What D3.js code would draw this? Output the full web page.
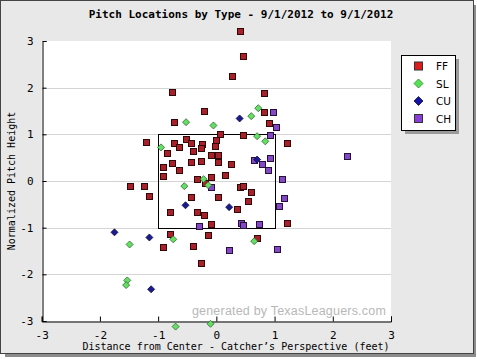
<!DOCTYPE html>
<html><head><meta charset="utf-8">
<script src="https://cdn.jsdelivr.net/npm/d3@7"></script>
<style>html,body{margin:0;padding:0;background:#fff;}svg{display:block;}</style>
</head><body>
<script>
const title = "Pitch Locations by Type - 9/1/2012 to 9/1/2012";
const xTitle = "Distance from Center - Catcher\u2019s Perspective (feet)";
const yTitle = "Normalized Pitch Height";
const xTicks = [-3,-2,-1,0,1,2,3];
const yTicks = [-3,-2,-1,0,1,2,3];
const gridY = [-2,-1,0,1,2];
const pitchTypes = ["FF","SL","CU","CH"];

const ffX = [0.40,0.45,0.27,-0.77,0.82,-0.21,-0.72,0.81,0.91,0.07,0.45,1.22,-1.20,-0.72,-0.65,-0.52,-0.43,-0.24,-0.27,0.00,-0.03,-0.40,-0.09,0.02,-0.84,-0.43,-0.27,0.02,0.26,-0.91,-0.77,-0.65,-0.91,-0.33,-0.09,0.15,-0.19,0.40,0.45,0.60,-0.43,0.02,0.55,0.36,-1.49,-1.25,-1.15,-0.79,-0.34,-0.21,-0.10,1.22,-0.79,-0.15,0.69,-0.91,-0.40,-0.27];
const ffY = [3.21,2.68,2.26,1.90,1.88,1.49,1.26,1.47,1.24,1.00,0.98,0.81,0.83,0.81,0.72,0.91,0.81,0.79,0.71,0.87,0.76,0.64,0.55,0.55,0.59,0.41,0.42,0.40,0.36,0.31,0.38,0.24,0.10,0.04,0.08,0.12,-0.05,-0.13,-0.11,-0.24,-0.35,-0.35,-0.43,-0.60,-0.11,-0.11,-0.33,-0.67,-0.67,-0.73,-0.93,-0.91,-1.14,-1.16,-1.23,-1.42,-1.40,-1.76];

const slX = [-0.52,-0.05,0.72,0.60,0.70,0.84,-0.95,-0.22,-0.55,-0.14,-0.74,0.65,-1.49,-1.53,-1.55,-0.70,-0.10];
const slY = [1.26,1.19,1.56,1.39,0.96,0.85,0.72,0.04,-0.11,-0.09,-1.25,-1.29,-1.36,-2.13,-2.23,-3.12,-3.06];

const cuX = [0.40,0.70,-0.53,0.22,-1.75,-1.15,-1.12];
const cuY = [1.34,0.46,-0.52,-0.56,-1.10,-1.21,-2.32];

const chX = [0.98,1.03,0.93,0.64,0.79,0.93,0.89,1.13,-0.09,1.17,1.07,-0.29,0.43,0.46,0.74,0.21,1.05,2.25];
const chY = [1.47,1.15,0.98,0.44,0.36,0.49,0.23,0.04,-0.13,-0.37,-0.54,-0.97,-0.91,-0.95,-0.93,-1.48,-1.46,0.53];

const szLeft = -1, szRight = 1, szTop = 1, szBottom = -1;

const W = 477, H = 359;
const svg = d3.select("body").append("svg").attr("width", W).attr("height", H);

// panel with shadow
svg.append("rect").attr("x",5).attr("y",5).attr("width",471).attr("height",352).attr("fill","#8c8c8c");
svg.append("rect").attr("x",0.5).attr("y",0.5).attr("width",473).attr("height",353)
  .attr("fill","#e8e8e8").attr("stroke","#444").attr("stroke-width",1);

const x = d3.scaleLinear().domain([-3,3]).range([41.7,391]);
const y = d3.scaleLinear().domain([-3,3]).range([321,41]);

// plot background
svg.append("rect").attr("x",x(-3)).attr("y",y(3)).attr("width",x(3)-x(-3)).attr("height",y(-3)-y(3)).attr("fill","#fff");

// gridlines
svg.append("g").selectAll("line").data(gridY).join("line")
  .attr("x1",x(-3)).attr("x2",x(3))
  .attr("y1",d=>Math.round(y(d))+0.5).attr("y2",d=>Math.round(y(d))+0.5)
  .attr("stroke","#d4d4d4").attr("stroke-width",1);

// watermark
svg.append("text").attr("x",386).attr("y",315).attr("text-anchor","end")
  .attr("font-family","'Liberation Sans', Arial, sans-serif").attr("font-size",12.5)
  .attr("letter-spacing",0.2)
  .attr("fill","#b8b8b8").text("generated by TexasLeaguers.com");

// axes
const mono = "'DejaVu Sans Mono', monospace";
const xAxis = d3.axisBottom(x).tickValues(xTicks).tickSize(-5).tickPadding(10).tickFormat(d3.format("d"));
const gx = svg.append("g").attr("transform",`translate(0,${Math.round(y(-3))+0.5})`).call(xAxis);
gx.select(".domain").attr("stroke","#000");
gx.selectAll(".tick line").attr("stroke","#000");
gx.selectAll("text").attr("font-family",mono).attr("font-size",11).attr("fill","#000")
  .text(d=>String(d));

const yAxis = d3.axisLeft(y).tickValues(yTicks).tickSize(-4).tickPadding(9).tickFormat(d3.format("d"));
const gy = svg.append("g").attr("transform",`translate(${Math.round(x(-3))+0.5},0)`).call(yAxis);
gy.select(".domain").attr("stroke","#000");
gy.selectAll(".tick line").attr("stroke","#000");
gy.selectAll("text").attr("font-family",mono).attr("font-size",11).attr("fill","#000")
  .text(d=>String(d));

// titles
svg.append("text").attr("x",241).attr("y",18).attr("text-anchor","middle")
  .attr("font-family",mono).attr("font-size",11).attr("font-weight","bold").attr("fill","#000").text(title);
svg.append("text").attr("x",236).attr("y",350).attr("text-anchor","middle")
  .attr("font-family",mono).attr("font-size",10).attr("fill","#000").text(xTitle);
svg.append("text").attr("transform",`translate(15,${y(0)}) rotate(-90)`).attr("text-anchor","middle")
  .attr("font-family",mono).attr("font-size",10).attr("fill","#000").text(yTitle);

// strike zone
svg.append("rect")
  .attr("x",Math.round(x(szLeft))+0.5).attr("y",Math.round(y(szTop))+0.5)
  .attr("width",Math.round(x(szRight))-Math.round(x(szLeft)))
  .attr("height",Math.round(y(szBottom))-Math.round(y(szTop)))
  .attr("fill","none").attr("stroke","#000").attr("stroke-width",1);

const styles = {
  FF:{shape:"sq", fill:"#a8202a", stroke:"#300808"},
  SL:{shape:"dm", fill:"#66dd66", stroke:"#2a6a2a"},
  CU:{shape:"dm", fill:"#1c1c90", stroke:"#0a0a40"},
  CH:{shape:"sq", fill:"#8448c4", stroke:"#241038"}
};
const series = {
  FF: ffX.map((v,i)=>[v,ffY[i]]),
  SL: slX.map((v,i)=>[v,slY[i]]),
  CU: cuX.map((v,i)=>[v,cuY[i]]),
  CH: chX.map((v,i)=>[v,chY[i]])
};
function drawMarker(g, type, cx, cy){
  const s = styles[type];
  if (s.shape === "sq"){
    g.append("rect").attr("x",Math.round(cx)-3+0.5).attr("y",Math.round(cy)-3+0.5)
      .attr("width",6).attr("height",6).attr("fill",s.fill).attr("stroke",s.stroke).attr("stroke-width",1);
  } else {
    const r = 3.5;
    g.append("path").attr("d",`M${cx},${cy-r}L${cx+r},${cy}L${cx},${cy+r}L${cx-r},${cy}Z`)
      .attr("fill",s.fill).attr("stroke",s.stroke).attr("stroke-width",0.8);
  }
}
const pts = svg.append("g");
["FF","CH","CU","SL"].forEach(t=>{
  series[t].forEach(p=>drawMarker(pts,t,x(p[0]),y(p[1])));
});

// legend
svg.append("rect").attr("x",405).attr("y",59).attr("width",54).attr("height",75).attr("fill","#9a9a9a");
svg.append("rect").attr("x",401.5).attr("y",55.5).attr("width",54).attr("height",75)
  .attr("fill","#fff").attr("stroke","#000").attr("stroke-width",1);
const lg = svg.append("g");
pitchTypes.forEach((t,i)=>{
  const cy = 66 + i*17.5;
  const s = styles[t];
  if (s.shape==="sq"){
    lg.append("rect").attr("x",414.5).attr("y",cy-4).attr("width",8).attr("height",8)
      .attr("fill", t==="FF" ? "#dd1c1c" : "#8a3ed8").attr("stroke","#333");
  } else {
    const r=4.5, cx=418.5;
    lg.append("path").attr("d",`M${cx},${cy-r}L${cx+r},${cy}L${cx},${cy+r}L${cx-r},${cy}Z`)
      .attr("fill", t==="SL" ? "#55e055" : "#1414a0").attr("stroke", t==="SL" ? "#2a8a2a" : "#0a0a50").attr("stroke-width",0.8);
  }
  lg.append("text").attr("x",436).attr("y",cy+4).attr("font-family","'DejaVu Sans', sans-serif")
    .attr("font-size",10.5).attr("fill","#000").text(t);
});
</script>
</body></html>
